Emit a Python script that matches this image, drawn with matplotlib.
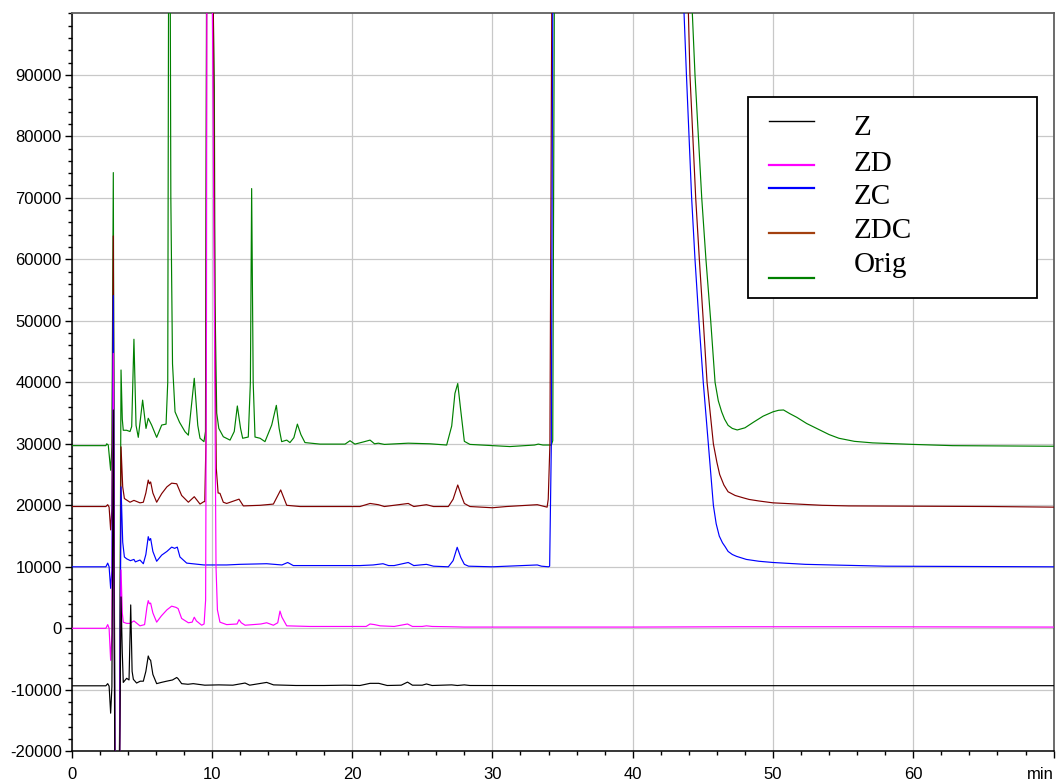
import matplotlib
matplotlib.use("Agg")
import matplotlib.pyplot as plt
from matplotlib.lines import Line2D
from matplotlib.patches import Rectangle
from matplotlib.ticker import MultipleLocator

plt.rcParams['axes.unicode_minus'] = False
plt.rcParams['font.family'] = ['Liberation Sans', 'DejaVu Sans']

# ---------------- data (time in min, signal) ----------------
z_t = [0, 2.45, 2.58, 2.68, 2.79, 2.88, 2.98, 3.1, 3.4, 3.53, 3.62, 3.69, 3.93, 4.1, 4.22, 4.32,
       4.41, 4.64, 4.9, 5.12, 5.3, 5.47, 5.55, 5.64, 5.8, 6.07, 6.4, 6.78, 7.2, 7.5, 7.6, 7.85,
       8.3, 8.68, 9.5, 10.5, 11.5, 12.37, 12.7, 13.91, 14.4, 16, 18, 19.5, 20.56, 21.28, 21.9,
       22.5, 23.5, 23.95, 24.3, 25.0, 25.3, 25.7, 27.1, 27.5, 28.0, 28.4, 35, 50, 70]
z_v = [-9350, -9350, -9000, -9400, -13800, -9500, 35500, -30000, -30000, 5100, -4000, -8800, -8130,
       -8400, 3800, -7000, -8300, -8900, -8600, -8600, -7000, -4500, -5000, -5200, -7500, -9000,
       -8800, -8600, -8400, -8000, -8200, -9000, -9100, -9000, -9250, -9200, -9250, -8900, -9250,
       -8800, -9200, -9300, -9300, -9250, -9300, -8950, -8950, -9300, -9250, -8750, -9250, -9250,
       -9050, -9300, -9200, -9300, -9200, -9300, -9330, -9330, -9330]

zd_t = [0, 2.45, 2.58, 2.68, 2.79, 2.88, 2.98, 3.1, 3.4, 3.53, 3.62, 3.69, 3.93, 4.17, 4.45, 4.88,
        5.21, 5.38, 5.47, 5.55, 5.64, 5.8, 6.07, 6.4, 6.8, 7.14, 7.45, 7.6, 7.85, 8.33, 8.6, 8.75,
        8.9, 9.28, 9.45, 9.56, 9.62, 9.65, 9.8, 9.95, 10.03, 10.18, 10.3, 10.4, 10.58, 11.06, 11.8,
        11.94, 12.1, 12.37, 13.5, 13.91, 14.39, 14.7, 14.86, 15.0, 15.34, 17, 20.56, 21.0, 21.28,
        21.6, 22.0, 23.0, 23.95, 24.3, 25.0, 25.3, 25.7, 27.0, 28.0, 30, 40, 47.6, 50.9, 56.8, 70]
zd_v = [0, 0, 600, 0, -5200, -800, 44700, -30000, -30000, 9500, 2500, 1000, 800, 800, 1200, 400,
        600, 3500, 4500, 4000, 4100, 2500, 1000, 2000, 3000, 3600, 3400, 3200, 1600, 900, 1000, 1800,
        1200, 500, 700, 4600, 50000, 110000, 250000, 250000, 105000, 53000, 10000, 3000, 1000, 600,
        700, 1400, 900, 500, 700, 900, 500, 900, 2800, 1800, 400, 300, 300, 300, 700,
        600, 400, 300, 700, 300, 300, 400, 300, 250, 200, 200, 200, 250, 250, 250, 200]

zc_t = [0, 2.45, 2.58, 2.68, 2.79, 2.88, 2.98, 3.1, 3.4, 3.53, 3.65, 3.77, 3.93, 4.2, 4.45, 4.55,
        4.88, 5.12, 5.3, 5.47, 5.55, 5.64, 5.8, 6.07, 6.43, 6.8, 7.14, 7.35, 7.54, 7.73, 8.21, 9.44,
        11.06, 12.0, 13.91, 15.0, 15.41, 15.81, 17.0, 20.56, 21.5, 22.2, 22.6, 23.0, 24.0, 24.4,
        25.3, 25.8, 26.86, 27.2, 27.49, 27.75, 28.0, 28.3, 30, 33.2, 33.5, 34.0, 34.08, 34.2, 34.3,
        34.45, 43.49, 43.66, 43.83, 44.2, 44.44, 44.72, 45.03, 45.39, 45.75, 45.95, 46.17, 46.4,
        46.58, 46.8, 47.1, 47.4, 48.1, 49.0, 50, 52.3, 54.7, 58, 70]
zc_v = [10000, 10000, 10600, 10000, 6500, 9500, 54100, -30000, -30000, 23000, 14000, 11600, 11300,
        11000, 11200, 10800, 11100, 10500, 12000, 14900, 14300, 14600, 12500, 10900, 11900, 12500,
        13200, 13000, 13200, 11600, 10600, 10300, 10300, 10400, 10500, 10300, 10700, 10200, 10200,
        10200, 10300, 10500, 10200, 10200, 10700, 10200, 10400, 10100, 10000, 11000, 13170, 11500,
        10400, 10100, 10000, 10300, 10100, 10000, 10100, 30000, 100000, 250000, 250000, 100000,
        90000, 70000, 60000, 50000, 40000, 30000, 20000, 17000, 15000, 13900, 13300, 12500, 12000,
        11700, 11200, 10900, 10700, 10400, 10270, 10100, 10000]

zdc_t = [0, 2.45, 2.58, 2.68, 2.79, 2.88, 2.98, 3.1, 3.4, 3.53, 3.65, 3.77, 4.17, 4.45, 4.88, 5.12,
         5.3, 5.47, 5.55, 5.64, 5.8, 6.07, 6.43, 6.8, 7.14, 7.5, 7.85, 8.33, 8.75, 9.16, 9.44, 9.5,
         9.58, 9.64, 9.8, 10.0, 10.1, 10.22, 10.32, 10.45, 10.58, 10.82, 11.06, 11.94, 12.25, 13.44,
         14.39, 14.91, 15.34, 16.29, 18, 20.56, 21.28, 21.87, 22.3, 24.0, 24.4, 25.3, 25.8, 26.86,
         27.2, 27.53, 27.8, 28.0, 28.4, 30.0, 31, 33.2, 33.9, 33.98, 34.1, 34.23, 34.4, 43.8, 43.97,
         44.08, 44.49, 44.75, 45.03, 45.3, 45.75, 46.0, 46.2, 46.5, 46.8, 47.3, 47.9, 48.3, 49.0,
         50, 53.5, 55.4, 65.6, 70]
zdc_v = [19800, 19800, 20100, 19700, 16000, 19500, 63800, -30000, -30000, 29500, 23000, 21100,
         20500, 20800, 20400, 20500, 22000, 24100, 23500, 23800, 22000, 20500, 21900, 23000, 23600,
         23500, 21600, 20500, 21400, 20200, 20600, 20600, 30000, 110000, 250000, 250000, 105000,
         50000, 26000, 22000, 21950, 20500, 20300, 21000, 19900, 20000, 20200, 22500, 20000, 19800,
         19800, 19800, 20300, 20100, 19800, 20300, 19800, 20100, 19800, 19800, 21000, 23300, 21500,
         20300, 19800, 19600, 19800, 20100, 19700, 21000, 30000, 100000, 250000, 250000, 100000,
         90000, 70000, 60000, 50000, 40000, 30000, 27000, 25000, 23300, 22200, 21600, 21200, 20950,
         20700, 20400, 20000, 19900, 19800, 19700]

orig_t = [0, 2.45, 2.51, 2.62, 2.79, 2.88, 2.98, 3.1, 3.4, 3.53, 3.62, 3.69, 3.93, 4.17, 4.29, 4.45,
          4.6, 4.76, 5.07, 5.31, 5.47, 5.71, 6.07, 6.43, 6.74, 6.86, 6.97, 7.08, 7.2, 7.38, 7.7,
          8.09, 8.33, 8.75, 9.0, 9.16, 9.44, 9.55, 9.63, 9.8, 10.0, 10.11, 10.18, 10.23, 10.35,
          10.5, 10.82, 11.3, 11.6, 11.82, 12.05, 12.2, 12.6, 12.75, 12.84, 12.95, 13.08, 13.44,
          13.79, 14.27, 14.6, 14.8, 14.98, 15.34, 15.57, 15.85, 16.1, 16.35, 16.64, 17.71, 19.5,
          19.85, 20.2, 20.8, 21.28, 21.6, 21.87, 22.3, 24.0, 25.55, 26.74, 27.1, 27.33, 27.53,
          27.74, 28.0, 28.4, 31.25, 33.0, 33.27, 33.6, 34.2, 34.3, 34.41, 34.55, 44.1, 44.25, 44.44,
          44.68, 44.92, 45.22, 45.56, 45.87, 46.1, 46.34, 46.55, 46.8, 47.1, 47.45, 48.0, 48.6,
          49.3, 50.0, 50.4, 50.75, 51.2, 51.7, 52.4, 53.2, 54.0, 54.7, 55.8, 57.1, 60, 62.8, 70]
orig_v = [29700, 29700, 30000, 29800, 25700, 29500, 74100, -30000, -30000, 42000, 34000, 32200,
          32200, 32000, 32800, 47000, 33000, 31050, 37100, 32500, 34150, 33050, 31050, 33050, 33200,
          40000, 160000, 70000, 43000, 35200, 33500, 31970, 31400, 40650, 33000, 30900, 30350, 32000,
          110000, 250000, 250000, 100000, 88000, 53000, 35000, 32500, 31150, 30600, 32000, 36150,
          32500, 30900, 31100, 40000, 71500, 40000, 31100, 30900, 30350, 33050, 36250, 32500, 30350,
          30600, 30200, 31000, 33200, 31500, 30200, 29950, 29950, 30500, 29950, 30300, 30600, 30000,
          30100, 29900, 30100, 30000, 29800, 32900, 38200, 39800, 35500, 30400, 29900, 29550, 29800,
          29950, 29800, 29800, 30500, 100000, 250000, 250000, 100000, 90000, 80000, 70000, 60000,
          50000, 40000, 37000, 35200, 34000, 33000, 32500, 32250, 32600, 33500, 34500, 35200, 35450,
          35500, 34900, 34300, 33300, 32400, 31500, 30900, 30400, 30150, 29900, 29700, 29600]

series_names = ['Z', 'ZD', 'ZC', 'ZDC', 'Orig']
x_tick_values = [0, 10, 20, 30, 40, 50, 60, 70]
x_tick_labels = ['0', '10', '20', '30', '40', '50', '60', 'min']
y_tick_values = list(range(-20000, 100000, 10000))

# ---------------- figure ----------------
W, H = 1058, 783
fig = plt.figure(figsize=(W / 100, H / 100), dpi=100)
ax = fig.add_axes([71.5 / W, 1 - 751.3 / H, (1053.6 - 71.5) / W, (751.3 - 13.3) / H])

trace_colors = {'Z': '#000000', 'ZD': '#ff00ff', 'ZC': '#0000ff', 'ZDC': '#800000', 'Orig': '#008000'}
legend_colors = {'Z': '#000000', 'ZD': '#ff00ff', 'ZC': '#0000ff', 'ZDC': '#a3400f', 'Orig': '#008000'}
data = {'Z': (z_t, z_v), 'ZD': (zd_t, zd_v), 'ZC': (zc_t, zc_v), 'ZDC': (zdc_t, zdc_v),
        'Orig': (orig_t, orig_v)}

for name in ['Orig', 'ZDC', 'ZC', 'ZD', 'Z']:
    t, v = data[name]
    ax.plot(t, v, color=trace_colors[name], lw=0.85, zorder=3)

ax.set_xlim(0, 70)
ax.set_ylim(-20000, 100000)
ax.set_xticks(x_tick_values)
ax.set_xticklabels(x_tick_labels)
ax.set_yticks(y_tick_values)
ax.set_yticklabels([str(v) for v in y_tick_values])
ax.xaxis.set_minor_locator(MultipleLocator(2))
ax.yaxis.set_minor_locator(MultipleLocator(2000))
ax.tick_params(axis='both', which='major', direction='out', length=5, width=1, labelsize=12,
               pad=2, colors='black')
ax.tick_params(axis='both', which='minor', direction='out', length=3, width=1)
ax.tick_params(axis='x', which='major', pad=6)
ax.get_xticklabels()[-1].set_horizontalalignment('right')

ax.grid(True, which='major', color='#c8c8c8', lw=0.9, zorder=0)
ax.set_axisbelow(True)

for s in ['left', 'bottom']:
    ax.spines[s].set_color('black')
    ax.spines[s].set_linewidth(1.1)
for s in ['top', 'right']:
    ax.spines[s].set_color('#606060')
    ax.spines[s].set_linewidth(1.3)

# ---------------- legend (manual) ----------------
fig.add_artist(Rectangle((747.5 / W, 1 - 298.3 / H), (1036.7 - 747.5) / W, (298.3 - 97.3) / H,
                         transform=fig.transFigure, facecolor='white', edgecolor='black',
                         lw=1.3, zorder=5))
line_y = [120.7, 165.0, 187.7, 232.7, 277.7]
text_base = [135.0, 170.7, 203.5, 238.0, 271.7]
for name, ly, tb in zip(series_names, line_y, text_base):
    fig.add_artist(Line2D([769.3 / W, 814 / W], [1 - ly / H, 1 - ly / H], transform=fig.transFigure,
                          color=legend_colors[name], lw=1.0 if name == 'Z' else 1.6, zorder=6))
    fig.text(853.3 / W, 1 - tb / H, name, fontsize=21, va='baseline', ha='left',
             family=['Liberation Serif', 'DejaVu Serif'], zorder=6)

fig.savefig('out.png', dpi=100)
